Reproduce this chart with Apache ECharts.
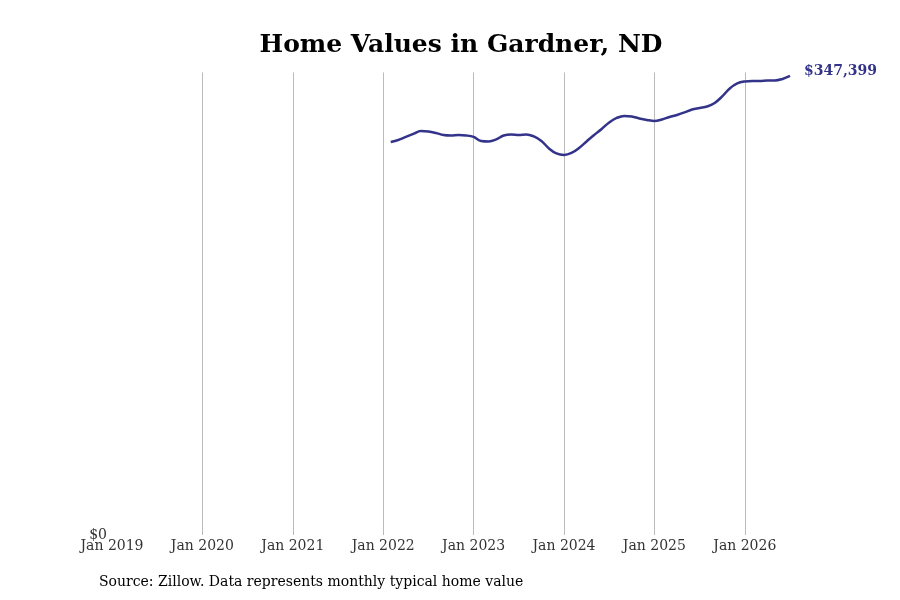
<!DOCTYPE html>
<html>
<head>
<meta charset="utf-8">
<script src="https://cdn.jsdelivr.net/npm/echarts@6/dist/echarts.min.js"></script>
<style>html,body{margin:0;padding:0;background:#fff;}#c{width:900px;height:600px;}</style>
</head>
<body>
<div id="c"></div>
<script>
const monthNames = ['Jan','Feb','Mar','Apr','May','Jun','Jul','Aug','Sep','Oct','Nov','Dec'];
const years = [2019, 2020, 2021, 2022, 2023, 2024, 2025, 2026];
const lastMonthIndex2026 = 6; // Jul 2026
const firstDataLabel = 'Feb 2022';
// Monthly typical home value, Feb 2022 .. Jul 2026
const homeValues = [
  297446, 298960, 301230, 303501, 305771, 305393, 304258, 302744, 302366, 302744, 302366,
  301230, 298203, 297824, 299338, 302366, 303122, 302744, 303122, 301609, 298203, 292526, 288742,
  287607, 289121, 292905, 297824, 302744, 307285, 312205, 315611, 317124, 316746, 315232, 314097,
  313340, 314475, 316368, 317881, 319773, 322044, 323179, 324315, 326964, 331883, 337938, 341722,
  343236, 343614, 343614, 343993, 343993, 345128, 347399
];
const yTickLabels = ['$0'];

const categories = [];
years.forEach(y => {
  monthNames.forEach((m, i) => {
    if (y < 2026 || i <= lastMonthIndex2026) categories.push(m + ' ' + y);
  });
});
const startIdx = categories.indexOf(firstDataLabel);
const seriesData = categories.map((c, i) => (i >= startIdx && i - startIdx < homeValues.length) ? homeValues[i - startIdx] : null);

const FONT = 'DejaVu Serif';
const LINE = '#33338a';
const chart = echarts.init(document.getElementById('c'));
chart.setOption({
  animation: false,
  backgroundColor: '#ffffff',
  title: {
    text: 'Home Values in Gardner, ND',
    left: 456,
    top: 28,
    textAlign: 'center',
    textStyle: { fontFamily: FONT, fontWeight: 'bold', fontSize: 25, color: '#000' }
  },
  graphic: [{
    type: 'text',
    left: 99,
    top: 575,
    style: { text: 'Source: Zillow. Data represents monthly typical home value', fontFamily: FONT, fontSize: 14, fill: '#000' }
  }],
  grid: { left: 112, right: 110, top: 72.5, bottom: 65, containLabel: false },
  xAxis: {
    type: 'category',
    data: categories,
    boundaryGap: false,
    axisLine: { show: false },
    axisTick: { show: false },
    axisLabel: { interval: 11, fontFamily: FONT, fontSize: 14, color: '#333', margin: 4 },
    splitLine: { show: true, interval: 11, showMinLine: false, lineStyle: { color: '#bbbbbb', width: 1 } }
  },
  yAxis: {
    type: 'value',
    min: 0,
    max: 350000,
    interval: 350000,
    axisLine: { show: false },
    axisTick: { show: false },
    splitLine: { show: false },
    axisLabel: {
      fontFamily: FONT, fontSize: 14, color: '#333', margin: 5,
      verticalAlign: 'middle',
      formatter: v => v === 0 ? yTickLabels[0] : ''
    }
  },
  series: [{
    type: 'line',
    data: seriesData,
    smooth: 0.4,
    showSymbol: false,
    connectNulls: false,
    lineStyle: { color: LINE, width: 2.5 },
    itemStyle: { color: LINE },
    endLabel: {
      show: true,
      distance: 14,
      offset: [0, -5],
      fontFamily: FONT,
      fontWeight: 'bold',
      fontSize: 14,
      color: LINE,
      formatter: p => '$' + Number(p.value).toLocaleString('en-US')
    }
  }]
});
</script>
</body>
</html>
